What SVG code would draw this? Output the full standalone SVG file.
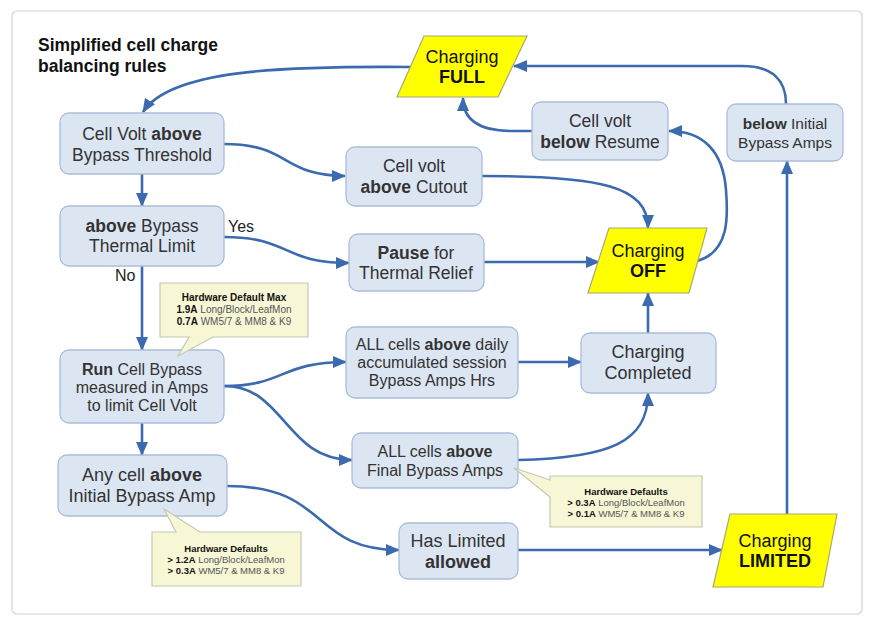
<svg xmlns="http://www.w3.org/2000/svg" width="876" height="626" viewBox="0 0 876 626">
<style>
text{font-family:"Liberation Sans",Arial,sans-serif;}
.node rect{fill:#dce6f2;stroke:#a9bdd8;stroke-width:1.3;}
.node text{fill:#333;text-anchor:middle;}
.para polygon{fill:#ffff00;stroke:#a8a878;stroke-width:1.2;}
.para text{fill:#111;text-anchor:middle;font-size:18px;}
.callout path{fill:#f7f7d6;stroke:#c4c8b4;stroke-width:1.2;}
.callout text{fill:#555;text-anchor:middle;}
.b{font-weight:bold;}
.callout .b{fill:#111;}
.conn path{fill:none;stroke:#3b6aae;stroke-width:2.6;}
.lbl{fill:#222;font-size:16px;}
</style>
<defs>
<marker id="arr" markerUnits="userSpaceOnUse" markerWidth="14" markerHeight="12" viewBox="0 0 14 12" refX="13" refY="6" orient="auto">
<path d="M0,0 L14,6 L0,12 Z" fill="#3b6aae"/>
</marker>
</defs>
<rect x="12" y="11" width="850" height="603" rx="5" fill="#fff" stroke="#d2d2d2" stroke-width="1.2"/>
<g id="title">
<text x="38" y="51" font-size="17.5" font-weight="bold" fill="#111">Simplified cell charge</text>
<text x="38" y="72" font-size="17.5" font-weight="bold" fill="#111">balancing rules</text>
</g>
<g class="conn" id="connectors" marker-end="url(#arr)">
<path d="M410,67 C280,66 170,70 143,112"/>
<path d="M786,104 C786,80 772,66 742,66 L514,66"/>
<path d="M532,131 L512,131 C482,131 463,122 463,98"/>
<path d="M697,261 C730,252 728,215 726,190 C723,150 702,131 669,131"/>
<path d="M224,144 C290,144 282,176 345,176"/>
<path d="M482,176 C600,176 648,186 648,228"/>
<path d="M142,174 L142,206"/>
<path d="M224,237 C290,237 282,263 349,263"/>
<path d="M484,262 L599,262"/>
<path d="M142,266 L142,350"/>
<path d="M224,386 C285,386 280,362 346,362"/>
<path d="M224,386 C285,386 285,460 352,460"/>
<path d="M518,362 L581,362"/>
<path d="M518,460 C610,458 648,442 648,393"/>
<path d="M648,333 L648,293"/>
<path d="M142,423 L142,455"/>
<path d="M227,486 C330,486 310,550 399,550"/>
<path d="M518,550 L722,550"/>
<path d="M787,514 L787,161"/>
</g>
<text class="lbl" x="228" y="232">Yes</text>
<text class="lbl" x="115" y="281">No</text>
<g class="para" id="charging-full">
<polygon points="424,36 527,36 498,97 397,97"/>
<text x="462" y="63">Charging</text>
<text x="462" y="83" class="b">FULL</text>
</g>
<g class="para" id="charging-off">
<polygon points="609,228 707,228 689,293 588,293"/>
<text x="648" y="257">Charging</text>
<text x="648" y="277" class="b">OFF</text>
</g>
<g class="para" id="charging-limited">
<polygon points="730,514 837,514 823,587 713,587"/>
<text x="775" y="547">Charging</text>
<text x="775" y="567" class="b">LIMITED</text>
</g>
<g class="node" id="n-bypass-threshold">
<rect x="60" y="113" width="164" height="61" rx="9"/>
<text x="142" y="140" font-size="17.5">Cell Volt <tspan class="b">above</tspan></text>
<text x="142" y="161" font-size="17.5">Bypass Threshold</text>
</g>
<g class="node" id="n-thermal-limit">
<rect x="60" y="206" width="164" height="60" rx="9"/>
<text x="142" y="232" font-size="17.5"><tspan class="b">above</tspan> Bypass</text>
<text x="142" y="252" font-size="17.5">Thermal Limit</text>
</g>
<g class="node" id="n-cutout">
<rect x="346" y="147" width="136" height="59" rx="9"/>
<text x="414" y="172" font-size="17.5">Cell volt</text>
<text x="414" y="193" font-size="17.5"><tspan class="b">above</tspan> Cutout</text>
</g>
<g class="node" id="n-pause">
<rect x="349" y="234" width="135" height="57" rx="9"/>
<text x="416" y="259" font-size="17.5"><tspan class="b">Pause</tspan> for</text>
<text x="416" y="279" font-size="17.5">Thermal Relief</text>
</g>
<g class="node" id="n-resume">
<rect x="532" y="102" width="136" height="58" rx="9"/>
<text x="600" y="127" font-size="17.5">Cell volt</text>
<text x="600" y="148" font-size="17.5"><tspan class="b">below</tspan> Resume</text>
</g>
<g class="node" id="n-initial-amps">
<rect x="727" y="104" width="116" height="57" rx="9"/>
<text x="785" y="129" font-size="15.5"><tspan class="b">below</tspan> Initial</text>
<text x="785" y="148" font-size="15.5">Bypass Amps</text>
</g>
<g class="node" id="n-run">
<rect x="60" y="350" width="164" height="73" rx="9"/>
<text x="142" y="375" font-size="16"><tspan class="b">Run</tspan> Cell Bypass</text>
<text x="142" y="393" font-size="16">measured in Amps</text>
<text x="142" y="411" font-size="16">to limit Cell Volt</text>
</g>
<g class="node" id="n-any-cell">
<rect x="58" y="455" width="169" height="61" rx="9"/>
<text x="142" y="481" font-size="18">Any cell <tspan class="b">above</tspan></text>
<text x="142" y="502" font-size="18">Initial Bypass Amp</text>
</g>
<g class="node" id="n-daily">
<rect x="346" y="327" width="172" height="71" rx="9"/>
<text x="432" y="350" font-size="16">ALL cells <tspan class="b">above</tspan> daily</text>
<text x="432" y="368" font-size="16">accumulated session</text>
<text x="432" y="386" font-size="16">Bypass Amps Hrs</text>
</g>
<g class="node" id="n-final">
<rect x="352" y="433" width="166" height="55" rx="9"/>
<text x="435" y="457" font-size="16">ALL cells <tspan class="b">above</tspan></text>
<text x="435" y="476" font-size="16">Final Bypass Amps</text>
</g>
<g class="node" id="n-completed">
<rect x="581" y="333" width="135" height="60" rx="9"/>
<text x="648" y="358" font-size="18">Charging</text>
<text x="648" y="379" font-size="18">Completed</text>
</g>
<g class="node" id="n-has-limited">
<rect x="399" y="523" width="119" height="56" rx="9"/>
<text x="458" y="547" font-size="18">Has Limited</text>
<text x="458" y="568" font-size="18" class="b">allowed</text>
</g>
<g class="callout" id="callout-max">
<path d="M160,283 H308 V337 H213 L178,356 L189,337 H160 Z"/>
<text x="234" y="301" font-size="10" class="b">Hardware Default Max</text>
<text x="234" y="313" font-size="10"><tspan class="b">1.9A</tspan> Long/Block/LeafMon</text>
<text x="234" y="325" font-size="10"><tspan class="b">0.7A</tspan> WM5/7 &amp; MM8 &amp; K9</text>
</g>
<g class="callout" id="callout-final">
<path d="M550,476 H702 V527 H550 V497 L514,468 L550,480 Z"/>
<text x="626" y="495" font-size="9.5" class="b">Hardware Defaults</text>
<text x="626" y="506" font-size="9.5"><tspan class="b">&gt; 0.3A</tspan> Long/Block/LeafMon</text>
<text x="626" y="517" font-size="9.5"><tspan class="b">&gt; 0.1A</tspan> WM5/7 &amp; MM8 &amp; K9</text>
</g>
<g class="callout" id="callout-initial">
<path d="M152,532 H176 L164,509 L200,532 H301 V586 H152 Z"/>
<text x="226" y="552" font-size="9.5" class="b">Hardware Defaults</text>
<text x="226" y="563" font-size="9.5"><tspan class="b">&gt; 1.2A</tspan> Long/Block/LeafMon</text>
<text x="226" y="574" font-size="9.5"><tspan class="b">&gt; 0.3A</tspan> WM5/7 &amp; MM8 &amp; K9</text>
</g>
</svg>
